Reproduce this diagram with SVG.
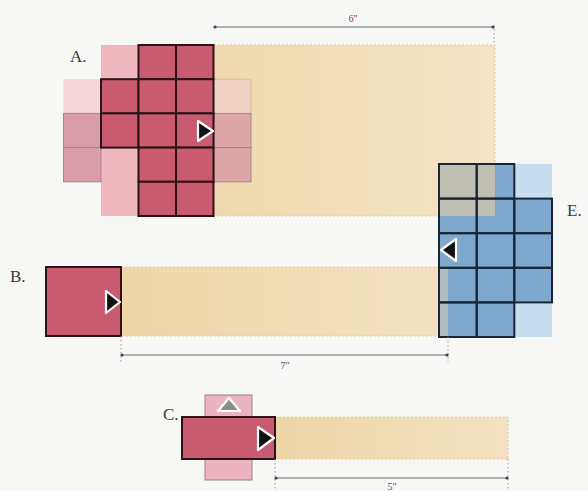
<svg xmlns="http://www.w3.org/2000/svg" width="588" height="491" viewBox="0 0 588 491">
<style>
.lbl{font-family:"Liberation Serif","DejaVu Serif",serif;font-size:17px;fill:#3a3a3a}
.dim{font-family:"Liberation Serif","DejaVu Serif",serif;font-size:10px;fill:#555;text-anchor:middle}
.beam{stroke:#e2c995;stroke-width:1;stroke-dasharray:2 2}
.rd{fill:#c95a6f;stroke:#2a1218;stroke-width:2}
.lp{fill:#f1b7c1}
.vlp{fill:#f6d6da}
.mp{fill:#d99ca8;stroke:#9c8a8c;stroke-width:1}
.bl{fill:#7fa8cf}
.bs{fill:none;stroke:#1b2633;stroke-width:2}
.lb{fill:#c6ddf2}
.tri{fill:#111;stroke:#fff;stroke-width:2.2;stroke-linejoin:round}
.dl{stroke:#6a6a6a;stroke-width:1;fill:none}
.ext{stroke:#9a9a9a;stroke-width:1;stroke-dasharray:1.5 2.5;fill:none}
.dot{fill:#444}
</style>
<defs>
<linearGradient id="bA" x1="0" y1="0" x2="1" y2="0">
<stop offset="0" stop-color="#f0d9ae"/><stop offset="1" stop-color="#f4e3c6"/>
</linearGradient>
<linearGradient id="bB" x1="0" y1="0" x2="1" y2="0">
<stop offset="0" stop-color="#efd6a8"/><stop offset="1" stop-color="#f3e1c2"/>
</linearGradient>
</defs>
<rect width="588" height="491" fill="#f7f7f5"/>

<g id="nodeA">
<rect class="beam" x="214" y="45" width="281" height="171" fill="url(#bA)"/>
<rect class="lp" x="101" y="45" width="37.5" height="34.2"/>
<rect class="lp" x="101" y="147.6" width="37.5" height="68.4"/>
<rect class="vlp" x="63.5" y="79.2" width="37.5" height="34.2"/>
<rect class="mp" x="63.5" y="113.4" width="37.5" height="34.2"/>
<rect class="mp" x="63.5" y="147.6" width="37.5" height="34.2"/>
<rect x="214" y="79.2" width="37" height="34.2" fill="#f3cfc4" fill-opacity="0.8" stroke="#d8b8a8" stroke-width="0.8"/>
<rect class="mp" x="214" y="113.4" width="37" height="34.2" fill-opacity="0.85"/>
<rect class="mp" x="214" y="147.6" width="37" height="34.2" fill-opacity="0.85"/>
<rect class="rd" x="138.5" y="45" width="37.5" height="34.2"/>
<rect class="rd" x="176" y="45" width="37.5" height="34.2"/>
<rect class="rd" x="101" y="79.2" width="37.5" height="34.2"/>
<rect class="rd" x="138.5" y="79.2" width="37.5" height="34.2"/>
<rect class="rd" x="176" y="79.2" width="37.5" height="34.2"/>
<rect class="rd" x="101" y="113.4" width="37.5" height="34.2"/>
<rect class="rd" x="138.5" y="113.4" width="37.5" height="34.2"/>
<rect class="rd" x="176" y="113.4" width="37.5" height="34.2"/>
<rect class="rd" x="138.5" y="147.6" width="37.5" height="34.2"/>
<rect class="rd" x="176" y="147.6" width="37.5" height="34.2"/>
<rect class="rd" x="138.5" y="181.8" width="37.5" height="34.2"/>
<rect class="rd" x="176" y="181.8" width="37.5" height="34.2"/>
<polygon class="tri" points="198,121 198,141 213,131"/>
<text class="lbl" x="70" y="62">A.</text>
</g>

<g id="nodeB">
<rect class="beam" x="121" y="267" width="327" height="69" fill="url(#bB)"/>
<rect class="rd" x="46" y="267" width="75" height="69" fill="#c85b6d"/>
<polygon class="tri" points="106,291 106,313 120,302"/>
<text class="lbl" x="10" y="282">B.</text>
</g>

<g id="nodeE">
<rect class="bl" x="439" y="164" width="75.3" height="173"/>
<rect class="bl" x="514.3" y="198.6" width="37.7" height="103.8"/>
<rect class="lb" x="514.3" y="164" width="37.7" height="34.6"/>
<rect class="lb" x="514.3" y="302.4" width="37.7" height="34.6"/>
<rect x="439" y="164" width="56" height="52" fill="#e6cfa2" fill-opacity="0.62"/>
<rect x="439" y="267" width="9" height="69" fill="#efd6a8" fill-opacity="0.45"/>
<rect class="bs" x="439" y="164" width="37.7" height="34.6"/>
<rect class="bs" x="476.7" y="164" width="37.6" height="34.6"/>
<rect class="bs" x="439" y="198.6" width="37.7" height="34.6"/>
<rect class="bs" x="476.7" y="198.6" width="37.6" height="34.6"/>
<rect class="bs" x="514.3" y="198.6" width="37.7" height="34.6"/>
<rect class="bs" x="439" y="233.2" width="37.7" height="34.6"/>
<rect class="bs" x="476.7" y="233.2" width="37.6" height="34.6"/>
<rect class="bs" x="514.3" y="233.2" width="37.7" height="34.6"/>
<rect class="bs" x="439" y="267.8" width="37.7" height="34.6"/>
<rect class="bs" x="476.7" y="267.8" width="37.6" height="34.6"/>
<rect class="bs" x="514.3" y="267.8" width="37.7" height="34.6"/>
<rect class="bs" x="439" y="302.4" width="37.7" height="34.6"/>
<rect class="bs" x="476.7" y="302.4" width="37.6" height="34.6"/>
<polygon class="tri" points="456,239 456,261 441,250"/>
<text class="lbl" x="567" y="216">E.</text>
</g>

<g id="nodeC">
<rect class="beam" x="275" y="417" width="233" height="42" fill="url(#bB)"/>
<rect x="205" y="395" width="47" height="85" fill="#ebb4c0" stroke="#9a8288" stroke-width="1"/>
<rect class="rd" x="182" y="417" width="93" height="42"/>
<polygon points="218,411 240,411 229,398" fill="#8c8c8c" stroke="#fff" stroke-width="2.2" stroke-linejoin="round"/>
<polygon class="tri" points="258,427 258,450 274,438"/>
<text class="lbl" x="163" y="420">C.</text>
</g>

<g id="connectors">
<line class="ext" x1="494" y1="25" x2="494" y2="45"/>
<line class="dl" x1="214" y1="27" x2="494" y2="27"/>
<circle class="dot" cx="215" cy="27" r="1.6"/>
<circle class="dot" cx="493" cy="27" r="1.6"/>
<text class="dim" x="353" y="22">6"</text>

<line class="ext" x1="121" y1="336" x2="121" y2="362"/>
<line class="ext" x1="448" y1="337" x2="448" y2="362"/>
<line class="dl" x1="121" y1="355" x2="448" y2="355"/>
<circle class="dot" cx="122" cy="355" r="1.6"/>
<circle class="dot" cx="447" cy="355" r="1.6"/>
<text class="dim" x="285" y="369">7"</text>

<line class="ext" x1="275" y1="459" x2="275" y2="491"/>
<line class="ext" x1="508" y1="459" x2="508" y2="491"/>
<line class="dl" x1="275" y1="478" x2="508" y2="478"/>
<circle class="dot" cx="276" cy="478" r="1.6"/>
<circle class="dot" cx="507" cy="478" r="1.6"/>
<text class="dim" x="392" y="490">5"</text>
</g>
</svg>
